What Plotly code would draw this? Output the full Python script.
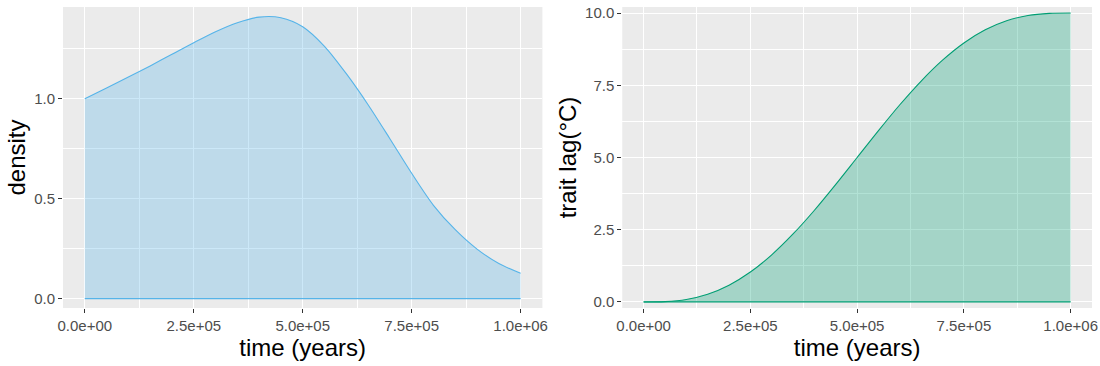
import plotly.graph_objs as go
from plotly.subplots import make_subplots

# time axis (years)
time = [0, 50000, 100000, 150000, 200000, 250000, 300000, 350000, 400000, 450000,
        500000, 550000, 600000, 650000, 700000, 750000, 800000, 850000, 900000, 950000, 1000000]

density = [1.000, 1.054, 1.108, 1.164, 1.222, 1.280, 1.335, 1.380, 1.408, 1.405,
           1.360, 1.262, 1.125, 0.970, 0.800, 0.627, 0.467, 0.345, 0.248, 0.176, 0.127]

trait_lag = [0.0, 0.012, 0.086, 0.266, 0.579, 1.035, 1.631, 2.352, 3.174, 4.069,
             5.0, 5.931, 6.826, 7.648, 8.369, 8.965, 9.421, 9.734, 9.914, 9.988, 10.0]

baseline = [0] * len(time)

x_ticks = [0, 250000, 500000, 750000, 1000000]
x_ticktext = ['0.0e+00', '2.5e+05', '5.0e+05', '7.5e+05', '1.0e+06']
x_minor = [125000, 375000, 625000, 875000]

dens_ticks = [0, 0.5, 1.0]
dens_ticktext = ['0.0', '0.5', '1.0']
dens_minor = [0.25, 0.75, 1.25]

lag_ticks = [0, 2.5, 5, 7.5, 10]
lag_ticktext = ['0.0', '2.5', '5.0', '7.5', '10.0']
lag_minor = [1.25, 3.75, 6.25, 8.75]

BLUE = '#56B4E9'
GREEN = '#009E73'
FONT = 'Liberation Sans, Arial, sans-serif'

fig = make_subplots(rows=1, cols=2)

fig.add_trace(go.Scatter(x=time, y=density, mode='lines', fill='tozeroy',
                         fillcolor='rgba(86,180,233,0.3)',
                         line=dict(color=BLUE, width=1.1, shape='spline', smoothing=0.8),
                         showlegend=False), 1, 1)
fig.add_trace(go.Scatter(x=time, y=baseline, mode='lines',
                         line=dict(color=BLUE, width=1.3), showlegend=False), 1, 1)

fig.add_trace(go.Scatter(x=time, y=trait_lag, mode='lines', fill='tozeroy',
                         fillcolor='rgba(0,158,115,0.3)',
                         line=dict(color=GREEN, width=1.1, shape='spline', smoothing=0.8),
                         showlegend=False), 1, 2)
fig.add_trace(go.Scatter(x=time, y=baseline, mode='lines',
                         line=dict(color=GREEN, width=1.3), showlegend=False), 1, 2)

common = dict(
    showgrid=True, gridcolor='white', gridwidth=1.1,
    zeroline=False, showline=False,
    ticks='outside', ticklen=4, tickwidth=1, tickcolor='#333333',
    tickfont=dict(size=15, color='#4D4D4D', family=FONT),
    title_font=dict(size=24, color='black', family=FONT),
    ticklabeloverflow='allow',
    automargin=False,
)

fig.update_xaxes(**common, tickmode='array', tickvals=x_ticks, ticktext=x_ticktext,
                 range=[-50000, 1050000], title_text='time (years)', title_standoff=2,
                 minor=dict(tickvals=x_minor, showgrid=True, gridcolor='white',
                            gridwidth=0.5, ticks=''))
fig.update_xaxes(domain=[0, 0.4659], row=1, col=1)
fig.update_xaxes(domain=[0.5435, 1.0], row=1, col=2)

fig.update_yaxes(**common, row=1, col=1, tickmode='array', tickvals=dens_ticks,
                 ticktext=dens_ticktext, range=[-0.0465, 1.4585],
                 title_text='density', title_standoff=1,
                 minor=dict(tickvals=dens_minor, showgrid=True, gridcolor='white',
                            gridwidth=0.5, ticks=''))
fig.update_yaxes(**common, row=1, col=2, tickmode='array', tickvals=lag_ticks,
                 ticktext=lag_ticktext, range=[-0.21, 10.21],
                 title_text='trait lag(°C)', title_standoff=1,
                 minor=dict(tickvals=lag_minor, showgrid=True, gridcolor='white',
                            gridwidth=0.5, ticks=''))

fig.update_layout(
    width=1100, height=366,
    margin=dict(l=63, r=8, t=7, b=58),
    plot_bgcolor='#EBEBEB',
    paper_bgcolor='white',
    font_family=FONT,
    showlegend=False,
)

# drop the default page margin so the figure sits at the window's corner
fig.write_html("out.html", config={'displayModeBar': False},
               post_script="document.body.style.margin='0';")
